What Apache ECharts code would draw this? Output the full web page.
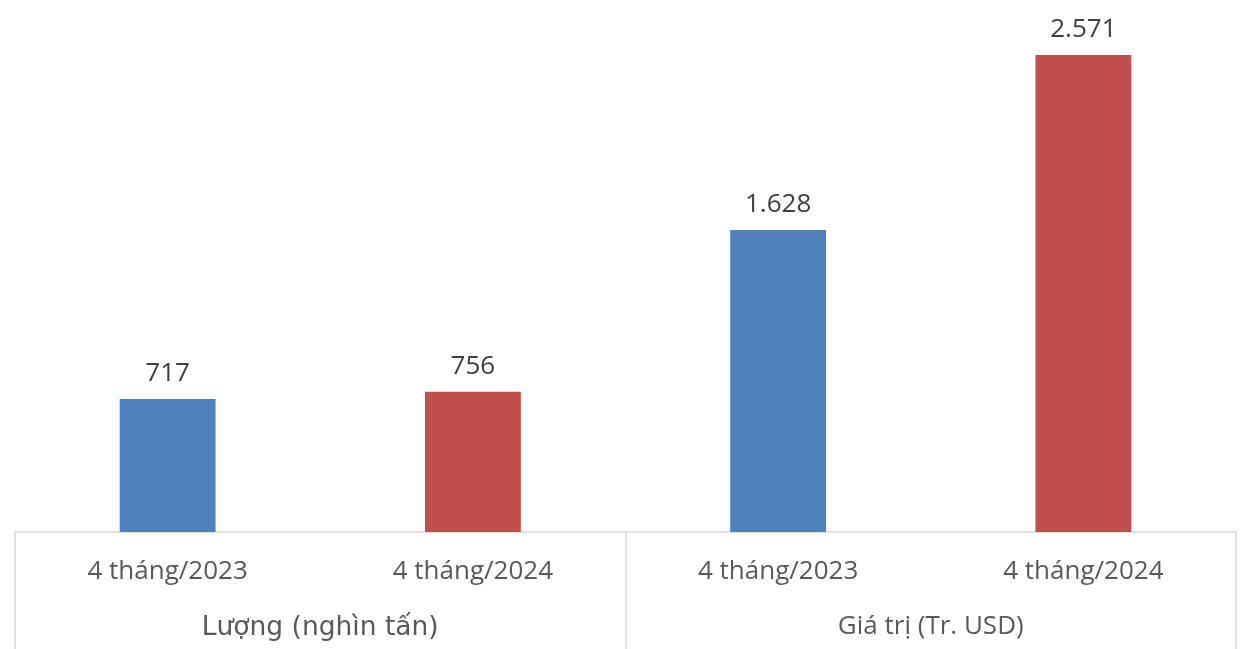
<!DOCTYPE html>
<html>
<head>
<meta charset="utf-8">
<script src="https://cdn.jsdelivr.net/npm/echarts@6/dist/echarts.min.js"></script>
<style>
    html, body {margin: 0; padding: 0; background: #fff;}
    #chart {width: 1242px; height: 649px;}
</style>
</head>
<body>
<div id="chart"></div>
<script>
    // categories, groups and values
    const periods = ['4 tháng/2023', '4 tháng/2024', '4 tháng/2023', '4 tháng/2024'];
    const groups = ['Lượng (nghìn tấn)', 'Giá trị (Tr. USD)'];
    const values = [717, 756, 1628, 2571];
    const barColors = ['#4F81BD', '#C0504D', '#4F81BD', '#C0504D'];

    const font = '"Open Sans", "Noto Sans", sans-serif';
    const fmt = v => String(v).replace(/\B(?=(\d{3})+(?!\d))/g, '.');

    let chart = echarts.init(document.getElementById('chart'));
    chart.setOption({
        animation: false,
        grid: {left: 15, right: 6, top: 0, bottom: 117},
        xAxis: [
            {
                type: 'category', data: periods, position: 'bottom',
                axisLine: {show: true, lineStyle: {color: '#D9D9D9', width: 1.5}},
                axisTick: {show: false},
                axisLabel: {color: '#595959', fontSize: 26, fontFamily: font, margin: 27}
            },
            {
                type: 'category', data: groups, position: 'bottom',
                axisLine: {show: false},
                axisTick: {show: true, length: 118, lineStyle: {color: '#D9D9D9', width: 1.5}},
                axisLabel: {
                    color: '#595959', fontSize: 26, fontFamily: font, margin: 82,
                    // first group label is set in a wider sans face in the original
                    formatter: (v, i) => i === 0 ? '{a|' + v + '}' : v,
                    rich: {a: {fontFamily: '"DejaVu Sans", sans-serif', fontSize: 26.5, color: '#595959', padding: [1, 0, 0, 0]}}
                }
            }
        ],
        yAxis: {type: 'value', min: 0, max: 2868, show: false, splitLine: {show: false}},
        series: [{
            type: 'bar', xAxisIndex: 0, barWidth: '31.4%',
            data: values.map((v, i) => ({value: v, itemStyle: {color: barColors[i]}})),
            label: {
                show: true, position: 'top', distance: 12,
                color: '#404040', fontSize: 26, fontFamily: font,
                formatter: p => fmt(p.value)
            }
        }]
    });
</script>
</body>
</html>
